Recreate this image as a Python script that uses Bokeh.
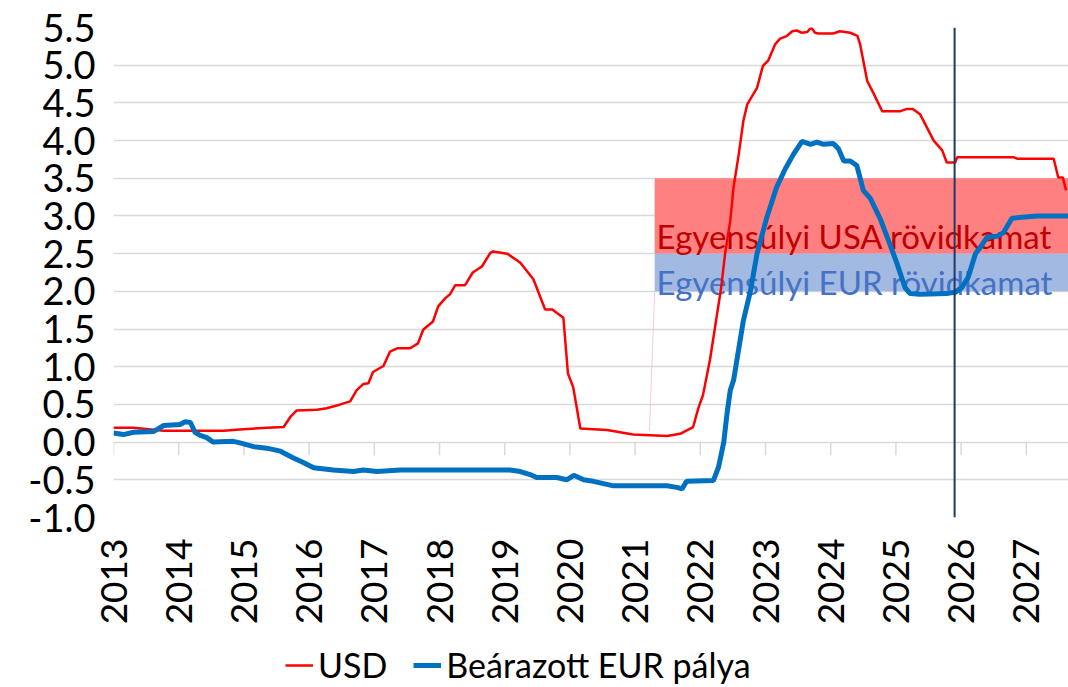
import math
from bokeh.plotting import figure
from bokeh.layouts import column
from bokeh.models import (FixedTicker, Span, Legend, LegendItem, NumeralTickFormatter,
                          Range1d)
from bokeh.core.properties import value
from bokeh.embed import file_html
from bokeh.resources import INLINE

# ---------------- data ----------------
usd_x = [2013.00, 2013.31, 2013.77, 2014.69, 2014.99, 2015.35, 2015.61, 2015.71, 2015.81,
         2016.12, 2016.27, 2016.48, 2016.63, 2016.73, 2016.83, 2016.91, 2016.98, 2017.14,
         2017.24, 2017.35, 2017.55, 2017.67, 2017.75, 2017.90, 2017.98, 2018.09, 2018.16,
         2018.24, 2018.39, 2018.51, 2018.65, 2018.78, 2018.82, 2019.04, 2019.24, 2019.44,
         2019.62, 2019.73, 2019.90, 2019.97, 2020.05, 2020.16, 2020.57, 2020.77, 2020.97,
         2021.49, 2021.69, 2021.89, 2021.97, 2022.04, 2022.15, 2022.25, 2022.32, 2022.38,
         2022.46, 2022.51, 2022.59, 2022.66, 2022.72, 2022.87, 2022.96, 2023.04, 2023.15,
         2023.22, 2023.33, 2023.41, 2023.48, 2023.56, 2023.64, 2023.70, 2023.76, 2023.81,
         2024.04, 2024.14, 2024.30, 2024.41, 2024.45, 2024.56, 2024.65, 2024.79, 2025.07,
         2025.17, 2025.26, 2025.37, 2025.58, 2025.71, 2025.78, 2025.91, 2025.94, 2026.80,
         2026.86, 2027.42, 2027.49, 2027.56, 2027.61]
usd_y = [0.19, 0.19, 0.15, 0.15, 0.17, 0.19, 0.20, 0.33, 0.42,
         0.43, 0.45, 0.50, 0.54, 0.69, 0.77, 0.78, 0.93, 1.01,
         1.20, 1.245, 1.245, 1.31, 1.49, 1.60, 1.80, 1.91, 1.96,
         2.08, 2.08, 2.25, 2.33, 2.51, 2.53, 2.50, 2.38, 2.16,
         1.76, 1.76, 1.65, 0.91, 0.73, 0.18, 0.16, 0.13, 0.10,
         0.08, 0.11, 0.20, 0.45, 0.62, 1.10, 1.66, 2.05, 2.50,
         2.94, 3.38, 3.82, 4.26, 4.48, 4.70, 4.99, 5.06, 5.28,
         5.35, 5.39, 5.45, 5.46, 5.43, 5.44, 5.50, 5.43, 5.42,
         5.42, 5.45, 5.43, 5.39, 5.28, 4.79, 4.64, 4.39, 4.39,
         4.42, 4.42, 4.35, 4.00, 3.87, 3.71, 3.71, 3.78, 3.78,
         3.76, 3.76, 3.51, 3.51, 3.34]

eur_x = [2013.00, 2013.15, 2013.31, 2013.61, 2013.69, 2013.77, 2014.02, 2014.10, 2014.18,
         2014.25, 2014.33, 2014.43, 2014.53, 2014.84, 2014.94, 2015.15, 2015.35, 2015.56,
         2015.76, 2015.91, 2016.07, 2016.37, 2016.68, 2016.83, 2017.04, 2017.40, 2017.70,
         2019.08, 2019.24, 2019.39, 2019.49, 2019.80, 2019.95, 2020.06, 2020.21, 2020.36,
         2020.67, 2021.49, 2021.64, 2021.72, 2021.79, 2022.20, 2022.28, 2022.36, 2022.41,
         2022.46, 2022.51, 2022.66, 2022.77, 2022.87, 2023.02, 2023.17, 2023.30, 2023.43,
         2023.56, 2023.69, 2023.79, 2023.89, 2024.04, 2024.12, 2024.20, 2024.30, 2024.40,
         2024.50, 2024.61, 2024.76, 2024.91, 2025.02, 2025.14, 2025.22, 2025.37, 2025.78,
         2025.91, 2026.01, 2026.11, 2026.22, 2026.29, 2026.40, 2026.55, 2026.65, 2026.78,
         2027.16, 2027.65]
eur_y = [0.12, 0.10, 0.13, 0.14, 0.18, 0.22, 0.235, 0.27, 0.26,
         0.13, 0.09, 0.06, 0.00, 0.01, -0.01, -0.06, -0.08, -0.12,
         -0.21, -0.27, -0.34, -0.37, -0.39, -0.37, -0.39, -0.37, -0.37,
         -0.37, -0.39, -0.43, -0.47, -0.47, -0.50, -0.44, -0.50, -0.52,
         -0.58, -0.58, -0.60, -0.62, -0.52, -0.51, -0.33, 0.00, 0.38,
         0.69, 0.82, 1.61, 2.01, 2.50, 2.98, 3.38, 3.62, 3.82,
         3.99, 3.95, 3.98, 3.95, 3.96, 3.89, 3.73, 3.73, 3.67,
         3.34, 3.23, 2.96, 2.62, 2.36, 2.05, 1.97, 1.96, 1.97,
         1.99, 2.05, 2.19, 2.50, 2.58, 2.72, 2.73, 2.78, 2.97,
         3.00, 3.00]

band_start = [2021.30]
band_end = [2027.65]
usd_band_low, usd_band_high = [2.5], [3.5]
eur_band_low, eur_band_high = [2.0], [2.5]
usd_band_label = ["Egyensúlyi USA rövidkamat"]
eur_band_label = ["Egyensúlyi EUR rövidkamat"]
edge_x = [2021.22, 2021.30]   # faint area-edge artefact
edge_y = [0.15, 2.0]

today = 2025.90
year_ticks = list(range(2013, 2028))
y_ticks = [-1.0, -0.5, 0.0, 0.5, 1.0, 1.5, 2.0, 2.5, 3.0, 3.5, 4.0, 4.5, 5.0, 5.5]
series_names = ["USD", "Beárazott EUR pálya"]

FONT = "Lato"
USD_COLOR = "#FF0000"
EUR_COLOR = "#0070C0"

# ---------------- main figure ----------------
p = figure(width=1068, height=637, output_backend="svg", toolbar_location=None,
           x_range=Range1d(2013.0, 2027.647), y_range=Range1d(-1.0, 5.5),
           min_border_left=113, min_border_right=0, min_border_top=27,
           min_border_bottom=120)
p.outline_line_color = None
p.background_fill_color = "white"
p.border_fill_color = "white"

p.xgrid.visible = False
p.ygrid.grid_line_color = "#D9D9D9"
p.ygrid.grid_line_width = 1.5
p.ygrid.ticker = FixedTicker(ticks=y_ticks)

p.yaxis.ticker = FixedTicker(ticks=y_ticks)
p.yaxis.formatter = NumeralTickFormatter(format="0.0")
p.yaxis.axis_line_color = None
p.yaxis.major_tick_line_color = None
p.yaxis.minor_tick_line_color = None
p.yaxis.major_label_text_font = FONT
p.yaxis.major_label_text_font_size = "38px"
p.yaxis.major_label_text_color = "#000000"
p.yaxis.major_label_standoff = 12

p.xaxis.ticker = FixedTicker(ticks=year_ticks)
p.xaxis.axis_line_color = None
p.xaxis.major_tick_line_color = None
p.xaxis.minor_tick_line_color = None
p.xaxis.major_label_orientation = math.pi / 2
p.xaxis.major_label_text_font = FONT
p.xaxis.major_label_text_font_size = "37px"
p.xaxis.major_label_text_color = "#000000"
p.xaxis.major_label_standoff = 15

# bands
p.quad(left=band_start, right=band_end, bottom=usd_band_low, top=usd_band_high,
       fill_color="#FF8080", line_color=None)
p.quad(left=band_start, right=band_end, bottom=eur_band_low, top=eur_band_high,
       fill_color="#A2B9E2", line_color=None)
p.line(edge_x, edge_y, line_color="#F2B8C0", line_width=1, line_alpha=0.7)

p.text(x=[band_start[0] + 0.03], y=[usd_band_low[0] + 0.23], text=usd_band_label,
       text_font=value(FONT), text_font_size="33px", text_color="#C00000",
       text_baseline="alphabetic", text_align="left")
p.text(x=[band_start[0] + 0.03], y=[eur_band_low[0] + 0.13], text=eur_band_label,
       text_font=value(FONT), text_font_size="33px", text_color="#4472C4",
       text_baseline="alphabetic", text_align="left")

# category-axis tick marks hanging from the zero line
p.segment(x0=year_ticks, y0=[0] * len(year_ticks), x1=year_ticks,
          y1=[-0.175] * len(year_ticks), line_color="#D9D9D9", line_width=1.5)

p.line(usd_x, usd_y, line_color=USD_COLOR, line_width=2.5)
p.line(eur_x, eur_y, line_color=EUR_COLOR, line_width=5)

p.add_layout(Span(location=today, dimension="height", line_color="#1F3864", line_width=2))

# ---------------- legend strip ----------------
lg = figure(width=1068, height=50, output_backend="svg", toolbar_location=None,
            x_range=Range1d(0, 1), y_range=Range1d(-20, -10),
            x_axis_location=None, y_axis_location=None,
            min_border_left=0, min_border_right=0, min_border_top=0, min_border_bottom=0)
lg.outline_line_color = None
lg.xgrid.visible = False
lg.ygrid.visible = False
# same series, outside this strip's ranges: only their legend glyphs show
r_usd = lg.line(usd_x, usd_y, line_color=USD_COLOR, line_width=2.5)
r_eur = lg.line(eur_x, eur_y, line_color=EUR_COLOR, line_width=5)

legend = Legend(items=[LegendItem(label=series_names[0], renderers=[r_usd]),
                       LegendItem(label=series_names[1], renderers=[r_eur])],
                orientation="horizontal", location=(172, 2))
legend.border_line_color = None
legend.background_fill_alpha = 0
legend.padding = 0
legend.margin = 0
legend.spacing = 26
legend.glyph_width = 28
legend.label_standoff = 5
legend.label_text_font = FONT
legend.label_text_font_size = "34px"
legend.label_text_color = "#000000"
lg.add_layout(legend, "center")

layout = column(p, lg, spacing=0)
open("out.html", "w").write(file_html(layout, INLINE))
